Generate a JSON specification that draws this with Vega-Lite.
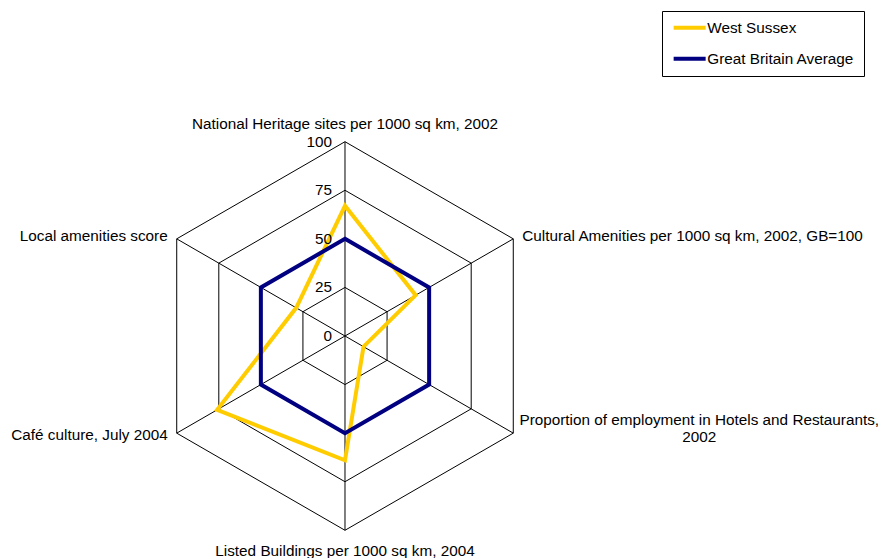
{
  "$schema": "https://vega.github.io/schema/vega-lite/v6.json",
  "width": 887,
  "height": 558,
  "padding": 0,
  "autosize": {"type": "none"},
  "background": "white",
  "config": {"view": {"stroke": null}, "font": "Liberation Sans"},
  "datasets": {
    "series": [
      {"series": "West Sussex", "k": 0, "value": 67},
      {"series": "West Sussex", "k": 1, "value": 42},
      {"series": "West Sussex", "k": 2, "value": 11},
      {"series": "West Sussex", "k": 3, "value": 64},
      {"series": "West Sussex", "k": 4, "value": 76},
      {"series": "West Sussex", "k": 5, "value": 29},
      {"series": "Great Britain Average", "k": 0, "value": 50},
      {"series": "Great Britain Average", "k": 1, "value": 50},
      {"series": "Great Britain Average", "k": 2, "value": 50},
      {"series": "Great Britain Average", "k": 3, "value": 50},
      {"series": "Great Britain Average", "k": 4, "value": 50},
      {"series": "Great Britain Average", "k": 5, "value": 50}
    ],
    "grid": [
      {"level": 25, "k": 0}, {"level": 25, "k": 1}, {"level": 25, "k": 2}, {"level": 25, "k": 3}, {"level": 25, "k": 4}, {"level": 25, "k": 5},
      {"level": 50, "k": 0}, {"level": 50, "k": 1}, {"level": 50, "k": 2}, {"level": 50, "k": 3}, {"level": 50, "k": 4}, {"level": 50, "k": 5},
      {"level": 75, "k": 0}, {"level": 75, "k": 1}, {"level": 75, "k": 2}, {"level": 75, "k": 3}, {"level": 75, "k": 4}, {"level": 75, "k": 5},
      {"level": 100, "k": 0}, {"level": 100, "k": 1}, {"level": 100, "k": 2}, {"level": 100, "k": 3}, {"level": 100, "k": 4}, {"level": 100, "k": 5}
    ],
    "axes": [
      {"k": 0, "max": 100, "label": "National Heritage sites per 1000 sq km, 2002"},
      {"k": 1, "max": 100, "label": "Cultural Amenities per 1000 sq km, 2002, GB=100"},
      {"k": 2, "max": 100, "label": "Proportion of employment in Hotels and Restaurants,\n2002"},
      {"k": 3, "max": 100, "label": "Listed Buildings per 1000 sq km, 2004"},
      {"k": 4, "max": 100, "label": "Café culture, July 2004"},
      {"k": 5, "max": 100, "label": "Local amenities score"}
    ],
    "ticks": [{"tick": 0}, {"tick": 25}, {"tick": 50}, {"tick": 75}, {"tick": 100}]
  },
  "encoding": {
    "x": {"field": "px", "type": "quantitative", "axis": null, "scale": {"domain": [-177.56, 278.95], "nice": false, "zero": false}},
    "y": {"field": "py", "type": "quantitative", "axis": null, "scale": {"domain": [-114.26, 172.93], "nice": false, "zero": false}}
  },
  "layer": [
    {
      "data": {"name": "grid"},
      "transform": [
        {"calculate": "datum.level * sin(datum.k * PI / 3)", "as": "px"},
        {"calculate": "datum.level * cos(datum.k * PI / 3)", "as": "py"}
      ],
      "mark": {"type": "line", "interpolate": "linear-closed", "color": "black", "strokeWidth": 1},
      "encoding": {"detail": {"field": "level"}, "order": {"field": "k"}}
    },
    {
      "data": {"name": "axes"},
      "transform": [
        {"calculate": "datum.max * sin(datum.k * PI / 3)", "as": "px"},
        {"calculate": "datum.max * cos(datum.k * PI / 3)", "as": "py"}
      ],
      "mark": {"type": "rule", "color": "black", "strokeWidth": 1},
      "encoding": {"x2": {"datum": 0}, "y2": {"datum": 0}}
    },
    {
      "data": {"name": "series"},
      "transform": [
        {"filter": "datum.series === 'West Sussex'"},
        {"calculate": "datum.value * sin(datum.k * PI / 3)", "as": "px"},
        {"calculate": "datum.value * cos(datum.k * PI / 3)", "as": "py"}
      ],
      "mark": {"type": "line", "interpolate": "linear-closed", "strokeWidth": 4},
      "encoding": {
        "order": {"field": "k"},
        "color": {
          "field": "series", "type": "nominal",
          "scale": {"domain": ["West Sussex", "Great Britain Average"], "range": ["#FFCC00", "#000080"]},
          "legend": {
            "title": null, "orient": "none", "legendX": 662, "legendY": 11,
            "strokeColor": "black", "fillColor": "white", "padding": 9, "cornerRadius": 0,
            "symbolType": "M-3.2,0H3.2", "symbolSize": 100, "symbolStrokeWidth": 4, "symbolOffset": 11,
            "labelFont": "Liberation Sans", "labelFontSize": 15.3, "labelColor": "black",
            "labelOffset": 10, "rowPadding": 14, "labelLimit": 300
          }
        }
      }
    },
    {
      "data": {"name": "series"},
      "transform": [
        {"filter": "datum.series === 'Great Britain Average'"},
        {"calculate": "datum.value * sin(datum.k * PI / 3)", "as": "px"},
        {"calculate": "datum.value * cos(datum.k * PI / 3)", "as": "py"}
      ],
      "mark": {"type": "line", "interpolate": "linear-closed", "strokeWidth": 4},
      "encoding": {
        "order": {"field": "k"},
        "color": {"field": "series", "type": "nominal"}
      }
    },
    {
      "data": {"name": "ticks"},
      "transform": [
        {"calculate": "0", "as": "px"},
        {"calculate": "datum.tick", "as": "py"}
      ],
      "mark": {"type": "text", "align": "right", "baseline": "alphabetic", "dx": -13, "dy": 5, "fontSize": 15.3, "font": "Liberation Sans", "color": "black"},
      "encoding": {"text": {"field": "tick", "type": "quantitative"}}
    },
    {
      "data": {"name": "axes"},
      "transform": [
        {"filter": "datum.k === 0"},
        {"calculate": "datum.max * sin(datum.k * PI / 3)", "as": "px"},
        {"calculate": "datum.max * cos(datum.k * PI / 3)", "as": "py"}
      ],
      "mark": {"type": "text", "align": "center", "baseline": "alphabetic", "dy": -13, "fontSize": 15.3, "font": "Liberation Sans", "color": "black"},
      "encoding": {"text": {"field": "label"}}
    },
    {
      "data": {"name": "axes"},
      "transform": [
        {"filter": "datum.k === 1"},
        {"calculate": "datum.max * sin(datum.k * PI / 3)", "as": "px"},
        {"calculate": "datum.max * cos(datum.k * PI / 3)", "as": "py"}
      ],
      "mark": {"type": "text", "align": "left", "baseline": "alphabetic", "dx": 9, "dy": 2, "fontSize": 15.3, "font": "Liberation Sans", "color": "black"},
      "encoding": {"text": {"field": "label"}}
    },
    {
      "data": {"name": "axes"},
      "transform": [
        {"filter": "datum.k === 2"},
        {"calculate": "datum.max * sin(datum.k * PI / 3)", "as": "px"},
        {"calculate": "datum.max * cos(datum.k * PI / 3)", "as": "py"}
      ],
      "mark": {"type": "text", "align": "center", "baseline": "alphabetic", "dx": 186, "dy": -8, "lineHeight": 17, "lineBreak": "\n", "fontSize": 15.3, "font": "Liberation Sans", "color": "black"},
      "encoding": {"text": {"field": "label"}}
    },
    {
      "data": {"name": "axes"},
      "transform": [
        {"filter": "datum.k === 3"},
        {"calculate": "datum.max * sin(datum.k * PI / 3)", "as": "px"},
        {"calculate": "datum.max * cos(datum.k * PI / 3)", "as": "py"}
      ],
      "mark": {"type": "text", "align": "center", "baseline": "alphabetic", "dy": 26, "fontSize": 15.3, "font": "Liberation Sans", "color": "black"},
      "encoding": {"text": {"field": "label"}}
    },
    {
      "data": {"name": "axes"},
      "transform": [
        {"filter": "datum.k === 4"},
        {"calculate": "datum.max * sin(datum.k * PI / 3)", "as": "px"},
        {"calculate": "datum.max * cos(datum.k * PI / 3)", "as": "py"}
      ],
      "mark": {"type": "text", "align": "right", "baseline": "alphabetic", "dx": -9, "dy": 7, "fontSize": 15.3, "font": "Liberation Sans", "color": "black"},
      "encoding": {"text": {"field": "label"}}
    },
    {
      "data": {"name": "axes"},
      "transform": [
        {"filter": "datum.k === 5"},
        {"calculate": "datum.max * sin(datum.k * PI / 3)", "as": "px"},
        {"calculate": "datum.max * cos(datum.k * PI / 3)", "as": "py"}
      ],
      "mark": {"type": "text", "align": "right", "baseline": "alphabetic", "dx": -9, "dy": 2, "fontSize": 15.3, "font": "Liberation Sans", "color": "black"},
      "encoding": {"text": {"field": "label"}}
    }
  ]
}
